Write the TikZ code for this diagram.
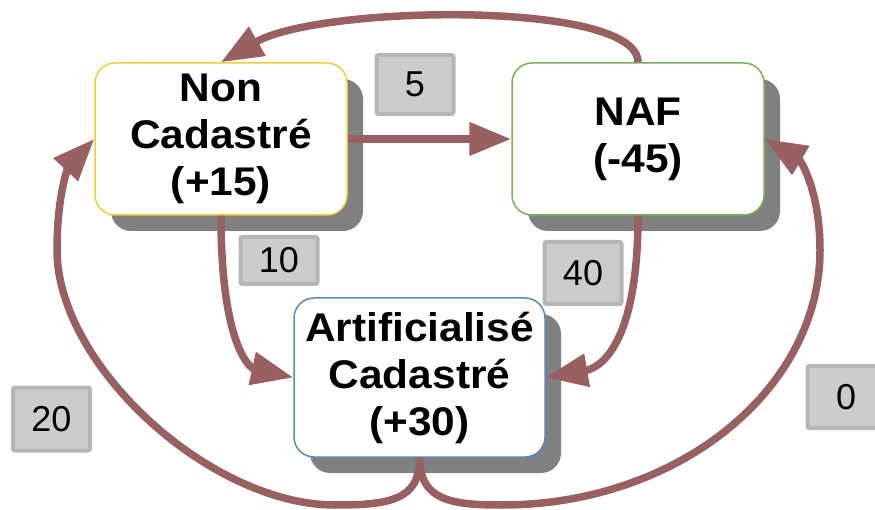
\documentclass[tikz,border=0pt]{standalone}
\usepackage{fontspec}
\setmainfont{Liberation Sans}
\newfontfamily\boxfont{Liberation Sans}[FakeStretch=1.06]
\usetikzlibrary{arrows.meta,shadows}
\definecolor{arrowc}{RGB}{152,96,96}
\definecolor{shadowc}{RGB}{128,128,128}
\definecolor{lblfill}{RGB}{204,204,204}
\definecolor{lbldraw}{RGB}{182,182,182}
\definecolor{ncborder}{RGB}{240,205,60}
\definecolor{nafborder}{RGB}{120,180,85}
\definecolor{acborder}{RGB}{90,135,200}
\begin{document}
\begin{tikzpicture}[x=1pt,y=-1pt,
  statebox/.style={rounded corners=20pt, fill=white, line width=1.5pt,
    minimum width=252pt, minimum height=152pt, align=center, inner sep=0pt,
    font=\boxfont\fontsize{40}{47}\selectfont\bfseries,
    general shadow={fill=shadowc, shadow xshift=16pt, shadow yshift=-16pt}},
  flowlabel/.style={fill=lblfill, draw=lbldraw, line width=4pt, rounded corners=2pt,
    minimum width=77pt, minimum height=59pt, inner sep=0pt,
    font=\fontsize{36}{40}\selectfont},
  flow/.style={draw=arrowc, line width=7.5pt, -{Triangle[length=42pt,width=32pt]}}]
\useasboundingbox (0,0) rectangle (875,510);
% state boxes
\node[statebox, draw=ncborder] (nc) at (221,139) {Non\\Cadastré\\(+15)};
\node[statebox, draw=nafborder] (naf) at (638,139) {NAF\\(-45)};
\node[statebox, draw=acborder, minimum width=251pt, minimum height=159pt] (ac) at (419.5,377.5) {Artificialisé\\Cadastré\\(+30)};
% flow labels
\node[flowlabel] (l5) at (415,84.5) {5};
\node[flowlabel, minimum height=47pt] (l10) at (279,260.5) {10};
\node[flowlabel, minimum height=62pt] (l40) at (583,273) {40};
\node[flowlabel, minimum height=63pt] (l20) at (51.5,419) {20};
\node[flowlabel, minimum height=62pt] (l0) at (846,397) {0};
% flows
\draw[flow] (naf.north) .. controls (638,0) and (320,5) .. (nc.north);
\draw[flow] (nc.east) -- (naf.west);
\draw[flow] (nc.south) .. controls (221,345) and (250,368) .. (ac.west);
\draw[flow] (naf.south) .. controls (638,345) and (600,368) .. (ac.east);
\draw[flow] (ac.south) .. controls (420,500) and (390,505) .. (335,505)
  .. controls (210,505) and (57,365) .. (57,250)
  .. controls (57,190) and (70,165) .. (nc.west);
\draw[flow] (ac.south) .. controls (420,500) and (450,505) .. (502,505)
  .. controls (677,505) and (820,390) .. (820,250)
  .. controls (820,190) and (800,160) .. (naf.east);
\end{tikzpicture}
\end{document}
